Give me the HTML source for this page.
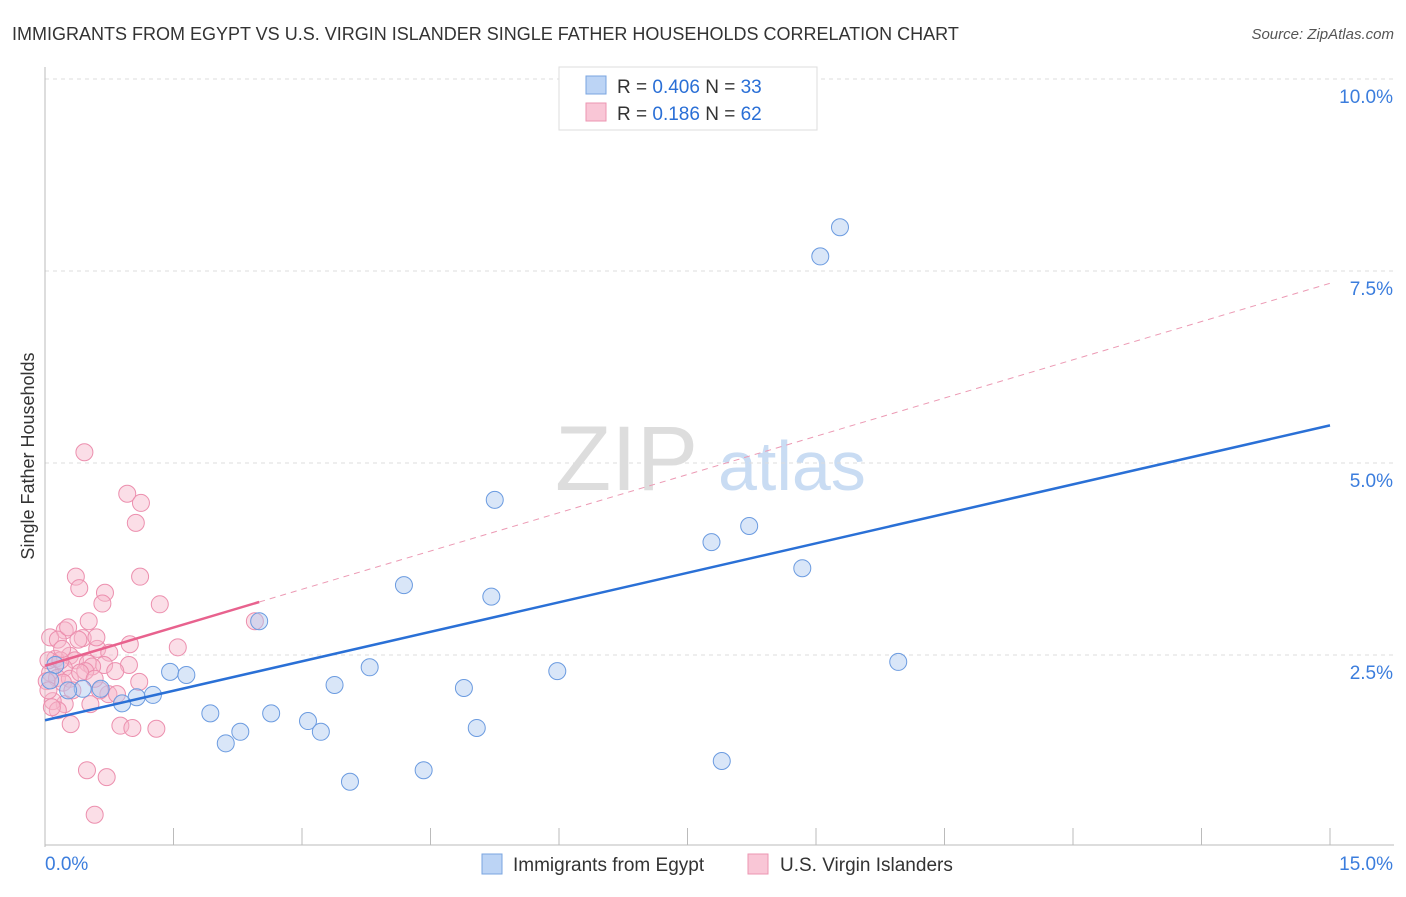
<!DOCTYPE html>
<html><head><meta charset="utf-8"><style>
body{margin:0;background:#fff;font-family:"Liberation Sans",sans-serif;}
svg text{font-family:"Liberation Sans",sans-serif;}
</style></head><body>
<svg id="chart" width="1406" height="892">
<text x="12" y="40" font-size="18" fill="#333">IMMIGRANTS FROM EGYPT VS U.S. VIRGIN ISLANDER SINGLE FATHER HOUSEHOLDS CORRELATION CHART</text>
<text x="1394" y="39" font-size="15" fill="#555" font-style="italic" text-anchor="end">Source: ZipAtlas.com</text>
<text transform="translate(34,456) rotate(-90)" font-size="18" fill="#333" text-anchor="middle">Single Father Households</text>
<g><text x="555" y="490" font-size="92" font-family="Liberation Serif" fill="#ddd">ZIP</text><text x="718" y="490" font-size="70" fill="#c9dcf3">atlas</text></g>
<g id="grid"></g><g id="axes"></g><g id="pts"></g><g id="lines"></g>
<g>
<rect x="559" y="67" width="258" height="63" fill="#fff" stroke="#ddd"/>
<rect x="586" y="76" width="20" height="18" fill="#bcd4f5" stroke="#7aa5e0"/>
<rect x="586" y="103" width="20" height="18" fill="#f9c6d6" stroke="#ec96b2"/>
<text x="617" y="93" font-size="19" fill="#333">R = <tspan fill="#2a6fd6">0.406</tspan>   N = <tspan fill="#2a6fd6">33</tspan></text>
<text x="617" y="120" font-size="19" fill="#333">R =  <tspan fill="#2a6fd6">0.186</tspan>   N = <tspan fill="#2a6fd6">62</tspan></text>
</g>
<g>
<rect x="482" y="854" width="20" height="20" fill="#bcd4f5" stroke="#7aa5e0"/>
<text x="513" y="871" font-size="19" fill="#333">Immigrants from Egypt</text>
<rect x="748" y="854" width="20" height="20" fill="#f9c6d6" stroke="#ec96b2"/>
<text x="780" y="871" font-size="19" fill="#333">U.S. Virgin Islanders</text>
</g>
</svg>
<script>
const xTicks=[0,1.5,3,4.5,6,7.5,9,10.5,12,13.5,15];
const yTicks=[2.5,5,7.5,10];
const yTickLabels=["2.5%","5.0%","7.5%","10.0%"];
const egyptX=[9.28,9.05,5.25,8.22,7.78,8.84,4.19,5.21,2.50,9.96,3.79,5.98,1.46,1.65,3.38,4.89,0.44,0.65,0.27,1.07,1.26,0.90,1.93,2.64,3.07,3.22,2.28,5.04,2.11,7.90,4.42,3.56,0.12,0.06];
const egyptY=[8.07,7.69,4.52,4.18,3.97,3.63,3.41,3.26,2.94,2.41,2.34,2.29,2.28,2.24,2.11,2.07,2.06,2.06,2.04,1.95,1.98,1.87,1.74,1.74,1.64,1.50,1.50,1.55,1.35,1.12,1.00,0.85,2.37,2.17];
const virginX=[0.46,0.96,1.12,1.06,0.36,1.11,0.40,0.70,0.67,1.34,0.51,2.45,0.23,0.06,0.15,0.44,1.55,0.99,0.61,0.75,0.29,0.12,0.35,0.50,0.69,0.55,0.98,0.22,0.06,0.47,0.82,0.14,0.29,0.02,0.21,0.74,0.84,0.23,1.10,0.53,0.09,0.15,0.30,0.88,1.02,1.30,0.49,0.72,0.58,0.04,0.04,0.18,0.39,0.60,0.64,0.32,0.41,0.58,0.20,0.27,0.08];
const virginY=[5.14,4.60,4.48,4.22,3.52,3.52,3.37,3.31,3.17,3.16,2.94,2.94,2.82,2.73,2.70,2.72,2.60,2.64,2.58,2.53,2.49,2.45,2.43,2.39,2.37,2.35,2.37,2.33,2.27,2.29,2.29,2.20,2.19,2.16,2.14,1.99,1.99,1.86,2.15,1.86,1.90,1.78,1.60,1.58,1.55,1.54,1.00,0.91,0.42,2.04,2.43,2.43,2.70,2.73,2.04,2.04,2.27,2.19,2.58,2.86,1.82];
const egyptFit=[0,1.65,15,5.49];
const virginFit=[0,2.36,15,7.34];
const virginSolidEnd=2.5;
const X=v=>45+v/15*1285, Y=v=>847-v/10*768;
const ns="http://www.w3.org/2000/svg";
function mk(t,a,p){const e=document.createElementNS(ns,t);for(const k in a)e.setAttribute(k,a[k]);p.appendChild(e);return e;}
const grid=document.getElementById('grid'),axes=document.getElementById('axes');
yTicks.forEach((v,i)=>{
 const l=mk('line',{x1:45,x2:1394,y1:Y(v),y2:Y(v),stroke:'#ddd','stroke-dasharray':'4,4'},grid);
 
 
 const t=mk('text',{x:1393,y:Y(v)+24,'font-size':19,fill:'#3b7ddd','text-anchor':'end'},axes);
 t.textContent=yTickLabels[i];
 
 
});
const ya=mk('line',{x1:45,x2:45,y1:67,y2:847,stroke:'#bbb'},axes);


const xa=mk('line',{x1:45,x2:1394,y1:845,y2:845,stroke:'#bbb'},axes);


xTicks.forEach(v=>{const t=mk('line',{x1:X(v),x2:X(v),y1:828,y2:845,stroke:'#bbb'},axes);
 
 });
[["0.0%",45,'start'],["15.0%",1393,'end']].forEach(d=>{const t=mk('text',{x:d[1],y:870,'font-size':19,fill:'#3b7ddd','text-anchor':d[2]},axes);t.textContent=d[0];
 
 });
const pts=document.getElementById('pts');
virginX.forEach((x,i)=>{const c=mk('circle',{cx:X(x),cy:Y(virginY[i]),r:8.5,fill:'rgba(247,182,202,0.45)',stroke:'#ec8fae','stroke-width':1},pts);
 
 });
egyptX.forEach((x,i)=>{const c=mk('circle',{cx:X(x),cy:Y(egyptY[i]),r:8.5,fill:'rgba(170,200,240,0.45)',stroke:'#6b9be0','stroke-width':1},pts);
 
 });
const lines=document.getElementById('lines');
const bl=mk('line',{x1:X(egyptFit[0]),y1:Y(egyptFit[1]),x2:X(egyptFit[2]),y2:Y(egyptFit[3]),stroke:'#2a70d6','stroke-width':2.5},lines);


const vy=x=>virginFit[1]+(virginFit[3]-virginFit[1])*(x-virginFit[0])/(virginFit[2]-virginFit[0]);
const pd=mk('line',{x1:X(virginSolidEnd),y1:Y(vy(virginSolidEnd)),x2:X(virginFit[2]),y2:Y(virginFit[3]),stroke:'#ec9ab4','stroke-width':1,'stroke-dasharray':'6,5'},lines);


const ps=mk('line',{x1:X(virginFit[0]),y1:Y(virginFit[1]),x2:X(virginSolidEnd),y2:Y(vy(virginSolidEnd)),stroke:'#e8628e','stroke-width':2.5},lines);


</script>
</body></html>
